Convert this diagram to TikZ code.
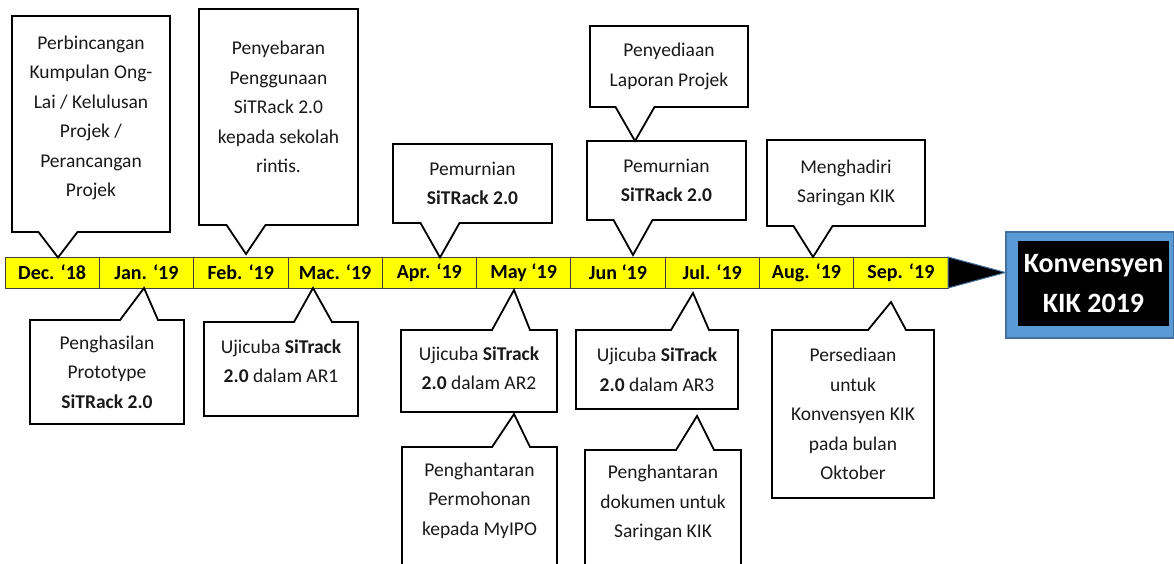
\documentclass[tikz,border=0pt]{standalone}
\usepackage{fontspec}
\setmainfont{Carlito}
\usetikzlibrary{positioning,calc}

\definecolor{barYellow}{HTML}{FFFF00}
\definecolor{kikBlue}{HTML}{5B9BD5}
\definecolor{kikEdge}{HTML}{41719C}

\tikzset{
	month/.style={draw=black!75, line width=0.8pt, fill=barYellow, outer sep=0pt, inner sep=0pt,
		minimum width=94.3pt, minimum height=31pt, font=\fontsize{20}{24}\selectfont\bfseries},
	note/.style={inner sep=0pt, outer sep=0pt, align=center, text=black!90,
		font=\fontsize{19.5}{29.5}\selectfont},
	callline/.style={draw=black, line width=1.8pt, line join=miter},
	kikbox/.style={fill=black, text=white, align=center, inner sep=0pt,
		minimum width=151pt, minimum height=85pt, font=\fontsize{28}{40}\selectfont\bfseries},
	kikframe/.style={fill=kikBlue, draw=kikEdge, line width=1.2pt, inner sep=0pt,
		minimum width=168pt, minimum height=106pt}
}

\newcommand{\calldown}[2]{\draw[callline] (#1.south west) -- (#1.north west) -- (#1.north east) -- (#1.south east)
	-- ($(#2 |- #1.south)+(19.5,0)$) -- (#2) -- ($(#2 |- #1.south)+(-19.5,0)$) -- cycle;}
\newcommand{\callup}[3]{\draw[callline] (#1.north west) -- ($(#2 |- #1.north)+(#3-19,0)$) -- (#2)
	-- ($(#2 |- #1.north)+(#3+19,0)$) -- (#1.north east) -- (#1.south east) -- (#1.south west) -- cycle;}

\begin{document}
\begin{tikzpicture}[x=1pt, y=-1pt]
		\useasboundingbox (0,0) rectangle (1174,563);
		\clip (0,0) rectangle (1174,563);

		\node[month] (dec) at (52.15,272.5) {Dec. ‘18};
		\node[month, right=0pt of dec] (jan) {Jan. ‘19};
		\node[month, right=0pt of jan] (feb) {Feb. ‘19};
		\node[month, right=0pt of feb] (mac) {Mac. ‘19};
		\node[month, right=0pt of mac] (apr) {Apr. ‘19};
		\node[month, right=0pt of apr] (may) {May ‘19};
		\node[month, right=0pt of may] (jun) {Jun ‘19};
		\node[month, right=0pt of jun] (jul) {Jul. ‘19};
		\node[month, right=0pt of jul] (aug) {Aug. ‘19};
		\node[month, right=0pt of aug] (sep) {Sep. ‘19};

		\node[kikframe] (frame) at (1090,285) {};
		\node[kikbox] (kik) at (1093.5,283.5) {Konvensyen\\KIK 2019};
		\filldraw[fill=black, draw=kikEdge, line width=1pt] (sep.north east) -- (frame.west |- sep.east) -- (sep.south east) -- cycle;

		\node[note, minimum width=158pt, minimum height=216pt, text depth=16pt] (decnote) at (91,124)
			{Perbincangan\\Kumpulan Ong-\\Lai / Kelulusan\\Projek /\\Perancangan\\Projek};
		\node[note, minimum width=159pt, minimum height=216pt, text depth=20pt] (febnote) at (278.5,117)
			{Penyebaran\\Penggunaan\\SiTRack 2.0\\kepada sekolah\\rintis.};
		\node[note, minimum width=159pt, minimum height=79pt] (aprnote) at (472.5,183.5)
			{Pemurnian\\\textbf{SiTRack 2.0}};
		\node[note, minimum width=159pt, minimum height=79pt] (junnote) at (666.5,180.5)
			{Pemurnian\\\textbf{SiTRack 2.0}};
		\node[note, minimum width=158pt, minimum height=81pt] (lapnote) at (669,66.5)
			{Penyediaan\\Laporan Projek};
		\node[note, minimum width=158pt, minimum height=86pt] (augnote) at (846,183)
			{Menghadiri\\Saringan KIK};

		\node[note, minimum width=154pt, minimum height=104pt] (jannote) at (107,372)
			{Penghasilan\\Prototype\\\textbf{SiTRack 2.0}};
		\node[note, minimum width=154pt, minimum height=94pt, text depth=16pt] (macnote) at (281,369)
			{Ujicuba \textbf{SiTrack}\\\textbf{2.0} dalam AR1};
		\node[note, minimum width=156pt, minimum height=82pt, text depth=6pt] (maynote) at (479,371)
			{Ujicuba \textbf{SiTrack}\\\textbf{2.0} dalam AR2};
		\node[note, minimum width=155pt, minimum height=118pt, text depth=14pt] (ipnote) at (479.5,506)
			{Penghantaran\\Permohonan\\kepada MyIPO};
		\node[note, minimum width=162pt, minimum height=79pt] (julnote) at (657,369.5)
			{Ujicuba \textbf{SiTrack}\\\textbf{2.0} dalam AR3};
		\node[note, minimum width=156pt, minimum height=115pt, text depth=12pt] (docnote) at (663,507.5)
			{Penghantaran\\dokumen untuk\\Saringan KIK};
		\node[note, minimum width=162pt, minimum height=168pt] (sepnote) at (853,414)
			{Persediaan\\untuk\\Konvensyen KIK\\pada bulan\\Oktober};

		\coordinate (tdec) at (58,257.5);
		\coordinate (tfeb) at (246,254);
		\coordinate (tapr) at (440,257.5);
		\coordinate (tjun) at (633,255);
		\coordinate (tlap) at (635,141);
		\coordinate (taug) at (813,257);
		\coordinate (tjan) at (144,288);
		\coordinate (tmac) at (313,288);
		\coordinate (tmay) at (514,290);
		\coordinate (tip) at (514,414);
		\coordinate (tjul) at (693,293);
		\coordinate (tdoc) at (697,416);
		\coordinate (tsep) at (891,302);

		\calldown{decnote}{tdec}
		\calldown{febnote}{tfeb}
		\calldown{aprnote}{tapr}
		\calldown{junnote}{tjun}
		\calldown{lapnote}{tlap}
		\calldown{augnote}{taug}
		\callup{jannote}{tjan}{-5}
		\callup{macnote}{tmac}{0}
		\callup{maynote}{tmay}{-3}
		\callup{ipnote}{tip}{-3}
		\callup{julnote}{tjul}{-3}
		\callup{docnote}{tdoc}{-2}
		\callup{sepnote}{tsep}{-4}
	\end{tikzpicture}
\end{document}
